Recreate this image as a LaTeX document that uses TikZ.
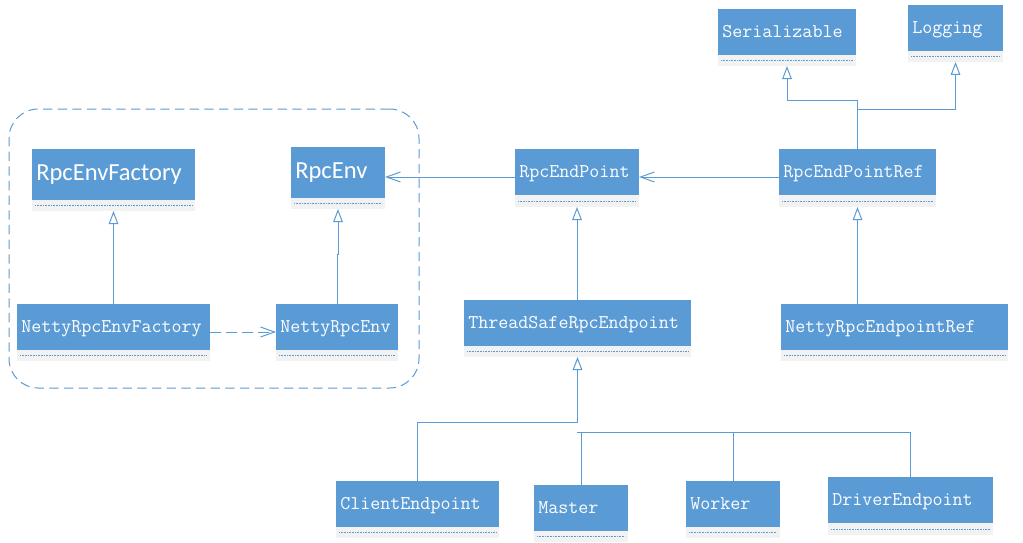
\documentclass[tikz,border=0pt]{standalone}
\usepackage{fontspec}
\newfontfamily\sansfnt{Carlito}
\usetikzlibrary{arrows.meta,calc}
\definecolor{boxblue}{HTML}{5B9BD5}
\definecolor{lineblue}{HTML}{5B9BD5}
\definecolor{boxgray}{HTML}{F2F2F2}
\newcommand\umlbox[7]{%
 \node[bluebox, minimum width=#4*0.75pt, minimum height=#5*0.75pt, anchor=north west] (#1) at (#2,#3) {};
 \node[graybox, minimum width=#4*0.75pt, minimum height=#6*0.75pt, anchor=north west] (#1-b) at (#1.south west) {};
 \draw[dotline] ([xshift=3*0.75pt]#1-b.west) -- ([xshift=-3*0.75pt]#1-b.east);
 \node[lbl] (#1-t) at ([xshift=4*0.75pt,yshift=-5.5*0.75pt]#1.west) {#7};
}
\begin{document}
\begin{tikzpicture}[x=0.75pt,y=-0.75pt,
 bluebox/.style={fill=boxblue, inner sep=0pt, outer sep=0pt},
 graybox/.style={fill=boxgray, inner sep=0pt, outer sep=0pt},
 dotline/.style={draw=lineblue, line width=0.45pt, dash pattern=on 0.6pt off 0.6pt},
 lbl/.style={anchor=base west, inner sep=0pt, text=white, font=\ttfamily\fontsize{14.6}{17}\selectfont},
 pkgbox/.style={draw=lineblue, line width=0.75pt, dash pattern=on 7pt off 4pt, rounded corners=22pt, inner sep=0pt, outer sep=0pt},
 conn/.style={draw=lineblue, line width=0.75pt},
 inh/.style={conn, -{Triangle[open, length=9.75pt, width=7.2pt]}},
 assoc/.style={conn, -{Straight Barb[length=10.5pt, width=7.5pt]}},
 dep/.style={assoc, dash pattern=on 8pt off 4pt}
]
\useasboundingbox (0,0) rectangle (1023,542);
\fill[white] (0,0) rectangle (1023,542);

\node[pkgbox, minimum width=410*0.75pt, minimum height=279*0.75pt, anchor=north west] (pkg) at (9,109) {};

\umlbox{rpcf}{32}{149}{163}{51}{11}{\sansfnt\fontsize{18.4}{21}\selectfont RpcEnvFactory}
\umlbox{rpce}{291}{147}{94}{51}{11}{\sansfnt\fontsize{18.4}{21}\selectfont RpcEnv}
\umlbox{nrpcf}{17}{304}{193}{46}{11}{NettyRpcEnvFactory}
\umlbox{nrpce}{276}{304}{122}{46}{11}{NettyRpcEnv}
\umlbox{ep}{515}{149}{124}{46}{12}{RpcEndPoint}
\umlbox{ts}{464}{300}{227}{46}{11}{ThreadSafeRpcEndpoint}
\umlbox{ref}{779}{149}{157}{46}{12}{RpcEndPointRef}
\umlbox{ser}{718}{9}{138}{46}{11}{Serializable}
\umlbox{log}{908}{5}{95}{46}{11}{Logging}
\umlbox{nref}{781}{304}{227}{46}{11}{NettyRpcEndpointRef}
\umlbox{ce}{336}{481}{163}{46}{11}{ClientEndpoint}
\umlbox{ma}{534}{485}{94}{46}{11}{Master}
\umlbox{wo}{686}{481}{94}{46}{11}{Worker}
\umlbox{de}{828}{477}{165}{46}{12}{DriverEndpoint}

% inheritance
\draw[inh] (nrpcf.north) -- (rpcf-b.south);
\draw[inh] (nrpce.north) -- ++(0,-50) -| (rpce-b.south);
\draw[inh] (ep-b.south |- ts.north) -- (ep-b.south);
\draw[inh] (ref-b.south |- nref.north) -- (ref-b.south);
\draw[inh] (ref.north) -- ([yshift=49*0.75pt]ref.north) -| (ser-b.south);
\draw[inh] ([yshift=40*0.75pt]ref.north) -| (log-b.south);
\draw[inh] (ce.north) -- ++(0,-59) -| (ts-b.south);

% bus for Master, Worker, DriverEndpoint
\coordinate (bus) at (577,432);
\draw[conn] (bus) -- (bus -| de.north) -- (de.north);
\draw[conn] (ma.north) -- (ma.north |- bus);
\draw[conn] (wo.north) -- (wo.north |- bus);

% associations
\draw[assoc] ([yshift=-5*0.75pt]ep.west) -- ([yshift=-5*0.75pt]ep.west -| rpce.east);
\draw[assoc] ([yshift=-5*0.75pt]ref.west) -- ([yshift=-5*0.75pt]ref.west -| ep.east);
\draw[dep] ([yshift=-5*0.75pt]nrpcf.east) -- ([yshift=-5*0.75pt]nrpcf.east -| nrpce.west);
\end{tikzpicture}
\end{document}
